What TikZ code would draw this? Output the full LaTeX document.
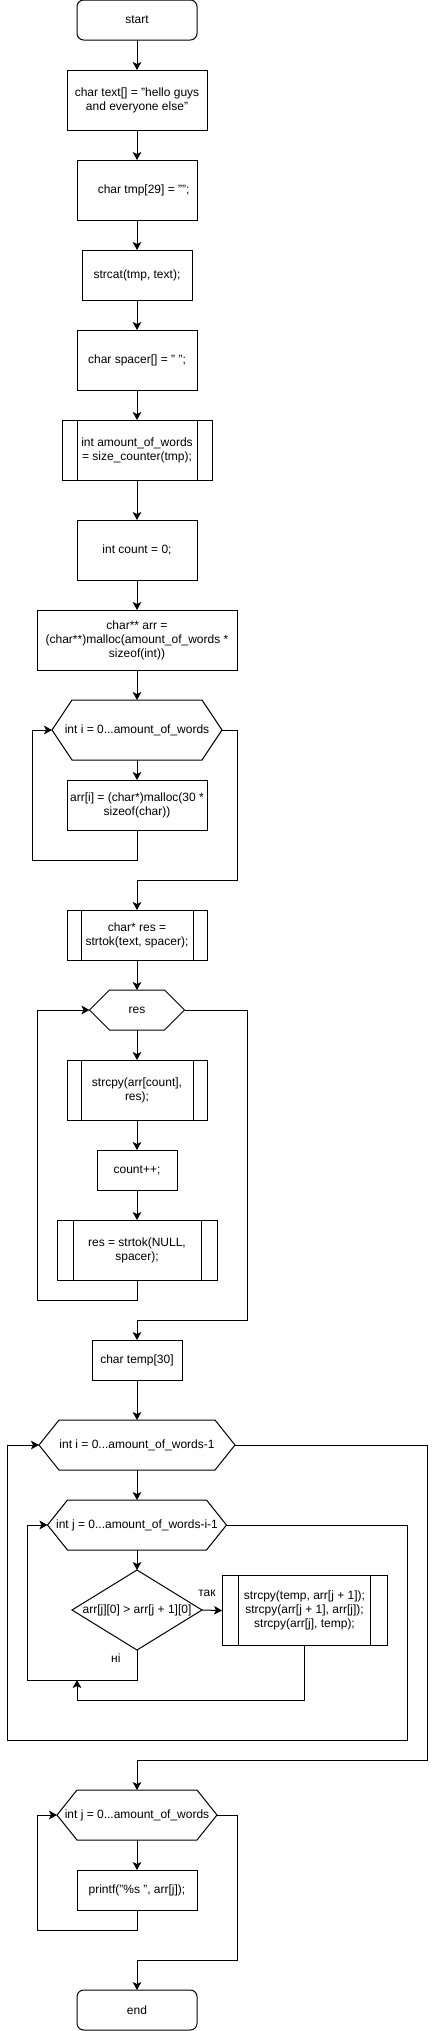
\documentclass[tikz,border=0pt]{standalone}
\usepackage{fontspec}
\setmainfont{Liberation Sans}
\usetikzlibrary{shapes.geometric, arrows.meta, positioning}

% outline of a loop header (hexagon round a plain node)
\newcommand{\hexframe}[1]{%
  \draw[line width=0.75pt] (#1.west) -- ([xshift=15pt]#1.north west) -- ([xshift=-15pt]#1.north east)
    -- (#1.east) -- ([xshift=-15pt]#1.south east) -- ([xshift=15pt]#1.south west) -- cycle;}

\begin{document}
\begin{tikzpicture}[
    x=0.75pt, y=-0.75pt,
    box/.style={draw, line width=0.75pt, outer sep=0pt, inner sep=2pt, align=center, font=\fontsize{9}{10.5}\selectfont},
    terminal/.style={box, rounded corners=5pt, minimum width=90pt, minimum height=30pt},
    process/.style={box, rectangle},
    subproc/.style={box, rectangle, path picture={
        \draw[line width=0.75pt] ([xshift=#1]path picture bounding box.north west) -- ([xshift=#1]path picture bounding box.south west);
        \draw[line width=0.75pt] ([xshift=-#1]path picture bounding box.north east) -- ([xshift=-#1]path picture bounding box.south east);}},
    loophex/.style={rectangle, outer sep=0pt, inner sep=0pt, align=center, minimum height=37.5pt, font=\fontsize{9}{10.5}\selectfont},
    decision/.style={box, diamond, inner sep=0pt, minimum width=97.5pt, minimum height=60pt},
    arrow/.style={-{Stealth[length=6pt, width=6.5pt, inset=1.5pt]}, line width=0.75pt},
    lbl/.style={inner sep=1pt, font=\fontsize{9}{10.5}\selectfont}
]
    \useasboundingbox (0,0) rectangle (437,2031);

    % setup
    \node[terminal] (start) at (137,20) {start};
    \node[process, minimum width=105pt, minimum height=45pt] (text) at (137,100) {char text[] = "hello guys\\and everyone else"};
    \node[process, minimum width=90pt, minimum height=45pt] (tmp) at (137,190) {\hspace*{10pt}char tmp[29] = "";};
    \node[process, minimum width=82.5pt, minimum height=37.5pt] (strcat) at (137,275) {strcat(tmp, text);};
    \node[process, minimum width=90pt, minimum height=45pt] (spacer) at (137,360) {char spacer[] = " ";};
    \node[subproc=11.25pt, minimum width=112.5pt, minimum height=45pt] (amount) at (137,450) {int amount\_of\_words\\= size\_counter(tmp);};
    \node[process, minimum width=90pt, minimum height=45pt] (count) at (137,550) {int count = 0;};
    \node[process, minimum width=150pt, minimum height=45pt] (arr) at (137,640) {char** arr =\\(char**)malloc(amount\_of\_words *\\sizeof(int))};

    % allocation loop
    \node[loophex, minimum width=127.5pt, minimum height=45pt] (loopi) at (137,730) {int i = 0...amount\_of\_words};
    \hexframe{loopi}
    \node[process, minimum width=105pt, minimum height=37.5pt] (alloc) at (137,805) {arr[i] = (char*)malloc(30 *\\sizeof(char))};

    % split into words
    \node[subproc=10.5pt, minimum width=105pt, minimum height=37.5pt] (resinit) at (137,935) {char* res =\\strtok(text, spacer);};
    \node[loophex, minimum width=71.25pt, minimum height=30pt] (reshex) at (137,1010) {res};
    \hexframe{reshex}
    \node[subproc=10.5pt, minimum width=105pt, minimum height=45pt] (copy) at (137,1090) {strcpy(arr[count],\\res);};
    \node[process, minimum width=60pt, minimum height=30pt] (inc) at (137,1170) {count++;};
    \node[subproc=12pt, minimum width=120pt, minimum height=45pt] (next) at (137,1250) {res = strtok(NULL,\\spacer);};

    % sorting
    \node[process, minimum width=67.5pt, minimum height=30pt] (temp) at (137,1360) {char temp[30]};
    \node[loophex, minimum width=147pt] (outer) at (137,1445) {int i = 0...amount\_of\_words-1};
    \hexframe{outer}
    \node[loophex, minimum width=134.25pt] (inner) at (137,1525) {int j = 0...amount\_of\_words-i-1};
    \hexframe{inner}
    \node[decision] (cmp) at (137,1610) {\makebox[0pt]{arr[j][0] > arr[j + 1][0]}};
    \node[subproc=12.4pt, minimum width=123.75pt, minimum height=52.5pt] (swap) at (304.5,1610.5) {strcpy(temp, arr[j + 1]);\\strcpy(arr[j + 1], arr[j]);\\strcpy(arr[j], temp);};
    \coordinate (join) at (77,1680);

    % output
    \node[loophex, minimum width=120pt] (printhex) at (137,1815) {int j = 0...amount\_of\_words};
    \hexframe{printhex}
    \node[process, minimum width=90pt, minimum height=30pt] (printbox) at (137,1890) {printf("\%s ", arr[j]);};
    \node[terminal] (end) at (137,2010) {end};

    % Connections
    \draw[arrow] (start) -- (text);
    \draw[arrow] (text) -- (tmp);
    \draw[arrow] (tmp) -- (strcat);
    \draw[arrow] (strcat) -- (spacer);
    \draw[arrow] (spacer) -- (amount);
    \draw[arrow] (amount) -- (count);
    \draw[arrow] (count) -- (arr);
    \draw[arrow] (arr) -- (loopi);
    \draw[arrow] (loopi) -- (alloc);
    \draw[arrow] (alloc.south) |- (32,860) |- (loopi.west);
    \draw[arrow] (loopi.east) -| (237,880) -| (resinit.north);

    \draw[arrow] (resinit) -- (reshex);
    \draw[arrow] (reshex) -- (copy);
    \draw[arrow] (copy) -- (inc);
    \draw[arrow] (inc) -- (next);
    \draw[arrow] (next.south) |- (37,1300) |- (reshex.west);
    \draw[arrow] (reshex.east) -| (247,1320) -| (temp.north);

    \draw[arrow] (temp) -- (outer);
    \draw[arrow] (outer) -- (inner);
    \draw[arrow] (inner) -- (cmp);
    \draw[arrow] (cmp.east) -- node[lbl, pos=0.25, above=8.5pt] {так} (swap.west);
    \draw[arrow] (cmp.south) |- node[lbl, pos=0.13, left=11pt] {ні} (27,1680) |- (inner.west);
    \draw[arrow] (swap.south) -- ++(0,55) -| (join);
    \draw[arrow] (inner.east) -| (407,1740) -- (7,1740) |- (outer.west);
    \draw[arrow] (outer.east) -| (427,1760) -| (printhex.north);

    \draw[arrow] (printhex) -- (printbox);
    \draw[arrow] (printbox.south) |- (37,1930) |- (printhex.west);
    \draw[arrow] (printhex.east) -| (237,1960) -| (end.north);
\end{tikzpicture}
\end{document}
